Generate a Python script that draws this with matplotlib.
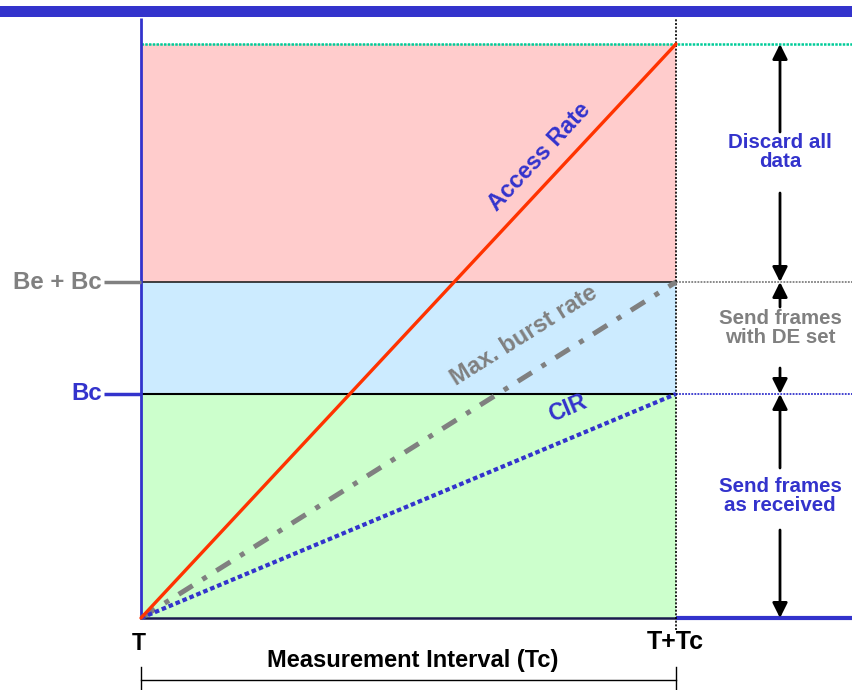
import math
import matplotlib
matplotlib.use("Agg")
import matplotlib.pyplot as plt
from matplotlib.patches import Rectangle

plt.rcParams['font.family'] = ['Liberation Sans', 'DejaVu Sans']
plt.rcParams['font.weight'] = 'bold'

# Committed burst, excess burst and access-rate volume over one interval Tc
tc = 1.0
bc = 64
be = 32
access_volume = 164
rate_names = ["Access Rate", "Max. burst rate", "CIR"]
rate_ends = [access_volume, bc + be, bc]
zone_labels = ["Discard all\ndata", "Send frames\nwith DE set", "Send frames\nas received"]
level_labels = ["Be + Bc", "Bc"]
time_labels = ["T", "T+Tc"]
axis_title = "Measurement Interval (Tc)"

BLUE = "#3333CC"
GREY = "#808080"
RED = "#FF3300"

W, H = 852, 690
fig = plt.figure(figsize=(W / 100, H / 100), dpi=100)
ax = fig.add_axes([0, 0, 1, 1])
# pixel mapping: x=0 -> 141 px, x=1 -> 676 px ; y=0 -> 618 px, 3.5 px per unit
px_x = 535.0
px_y = 3.5
ax.set_xlim(-141 / px_x, (W - 141) / px_x)
ax.set_ylim(-(H - 618) / px_y, 618 / px_y)
ax.axis("off")


def dy(px):
    return px / px_y


def dx(px):
    return px / px_x


top = access_volume
xr = tc

# Title band
fig.add_artist(Rectangle((0, 1 - 16.5 / H), 1, 10.5 / H, transform=fig.transFigure,
                         facecolor=BLUE, edgecolor="none"))

# Zones
ax.add_patch(Rectangle((0, 0), xr, bc, facecolor="#CCFFCC", edgecolor="none", zorder=1))
ax.add_patch(Rectangle((0, bc), xr, be, facecolor="#CCEBFF", edgecolor="none", zorder=1))
ax.add_patch(Rectangle((0, bc + be), xr, top - bc - be, facecolor="#FFCCCC", edgecolor="none", zorder=1))
ax.plot([0, xr], [bc, bc], color="black", lw=1.5, zorder=2)
ax.plot([0, xr], [bc + be, bc + be], color="#222222", lw=1.2, zorder=2)
ax.plot([0, xr], [0, 0], color="#1a1a4d", lw=1.8, zorder=2)

# Guide lines to the right
ax.plot([0, dx(W - 141)], [top, top], color="#00CC99", lw=1.8, ls=(0, (1, 0.5)), zorder=3)
ax.plot([xr, dx(W - 141)], [bc + be, bc + be], color=GREY, lw=1.3, ls=(0, (1, 0.7)), zorder=3)
ax.plot([xr, dx(W - 141)], [bc, bc], color=BLUE, lw=1.3, ls=(0, (1, 0.7)), zorder=3)
ax.plot([xr, dx(W - 141)], [0, 0], color=BLUE, lw=3, solid_capstyle="butt", zorder=3)

# Interval end marker
ax.plot([xr, xr], [dy(-12), dy(600)], color="black", lw=1.2, ls=(0, (1.2, 1)), zorder=4)
# Vertical axis
ax.plot([0, 0], [0, dy(600)], color=BLUE, lw=2, zorder=4, solid_capstyle="butt")

# Level ticks
ax.plot([dx(-37), 0], [bc + be, bc + be], color=GREY, lw=2.5, solid_capstyle="butt", zorder=4)
ax.plot([dx(-37), 0], [bc, bc], color=BLUE, lw=2.5, solid_capstyle="butt", zorder=4)
ax.text(dx(-39), bc + be, level_labels[0], color=GREY, fontsize=17.3, ha="right", va="center")
ax.text(dx(-39), bc, level_labels[1], color=BLUE, fontsize=17.3, ha="right", va="center")

# Rate lines
ax.plot([0, xr], [0, rate_ends[0]], color=RED, lw=2.4, zorder=6, solid_capstyle="round")
ax.plot([0, xr], [0, rate_ends[1]], color=GREY, lw=3.6, zorder=5,
        ls=(0, (3.3, 2.3, 1.0, 2.3)), dash_capstyle="butt")
ax.plot([0, xr], [0, rate_ends[2]], color=BLUE, lw=3.0, zorder=5,
        ls=(0, (1.1, 0.7)), dash_capstyle="butt")


def screen_angle(v):
    return math.degrees(math.atan2(v * px_y, xr * px_x))


# Rotated rate labels
ax.text(dx(540 - 141), dy(618 - 157), rate_names[0], color=BLUE, fontsize=16.8,
        rotation=screen_angle(rate_ends[0]), rotation_mode="anchor", ha="center", va="center", zorder=7)
ax.text(dx(524 - 141), dy(618 - 336), rate_names[1], color=GREY, fontsize=17,
        rotation=screen_angle(rate_ends[1]), rotation_mode="anchor", ha="center", va="center", zorder=7)
ax.text(dx(568 - 141), dy(618 - 408), rate_names[2], color=BLUE, fontsize=16.5,
        rotation=screen_angle(rate_ends[2]), rotation_mode="anchor", ha="center", va="center", zorder=7)

# Zone arrows on the right
xa = dx(780 - 141)
akw = dict(arrowstyle="-|>,head_length=0.9,head_width=0.45", color="black", lw=2,
           shrinkA=0, shrinkB=0, mutation_scale=10)


def arrow(y0, y1):
    ax.annotate("", xy=(xa, y1), xytext=(xa, y0), arrowprops=akw, zorder=6)


arrow(dy(618 - 132), top)
arrow(dy(618 - 193), bc + be)
arrow(dy(618 - 307), bc + be)
arrow(dy(618 - 368), bc)
arrow(dy(618 - 468), bc)
arrow(dy(618 - 530), 0)

zkw = dict(fontsize=14.8, ha="center", va="center", linespacing=1.0)
ax.text(xa, dy(618 - 152), zone_labels[0], color=BLUE, **zkw)
ax.text(xa, dy(618 - 328), zone_labels[1], color=GREY, **zkw)
ax.text(xa, dy(618 - 496), zone_labels[2], color=BLUE, **zkw)

# Time axis labels and bracket
ax.text(dx(-2), dy(618 - 644), time_labels[0], color="black", fontsize=16.5, ha="center", va="center")
ax.text(xr - dx(1), dy(618 - 642), time_labels[1], color="black", fontsize=18, ha="center", va="center")
ax.text(dx(413 - 141), dy(618 - 660), axis_title, color="black", fontsize=17, ha="center", va="center")
ax.plot([0, xr], [dy(618 - 680), dy(618 - 680)], color="black", lw=1)
ax.plot([0, 0], [dy(618 - 667), dy(618 - 692)], color="black", lw=1, clip_on=False)
ax.plot([xr, xr], [dy(618 - 667), dy(618 - 692)], color="black", lw=1, clip_on=False)

fig.savefig("out.png", dpi=100)
